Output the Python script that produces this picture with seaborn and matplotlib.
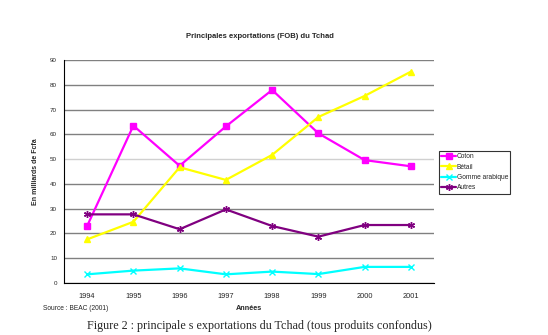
import matplotlib
matplotlib.use("Agg")
import matplotlib.pyplot as plt
import seaborn as sns
import pandas as pd

annees = ["1994", "1995", "1996", "1997", "1998", "1999", "2000", "2001"]
coton = [23, 63.5, 47.3, 63.2, 77.9, 60.4, 49.6, 47.1]
betail = [17.6, 24.7, 46.7, 41.6, 51.7, 67, 75.5, 85.3]
gomme = [3.5, 5.0, 5.9, 3.5, 4.6, 3.6, 6.5, 6.5]
autres = [27.7, 27.7, 21.7, 29.7, 23.0, 18.7, 23.4, 23.4]
series_names = ["Coton", "Bétail", "Gomme arabique", "Autres"]
colors = ["#FF00FF", "#FFFF00", "#00FFFF", "#800080"]
marker_list = ["s", "^", "x", (6, 2, 0)]

sns.set_style("white")
plt.rcParams["font.family"] = ["Liberation Sans", "DejaVu Sans"]

fig = plt.figure(figsize=(5.48, 3.35), dpi=100)
ax = fig.add_axes([64/548, 1-283/335, 370/548, 223/335])

for name, vals, col, mk in zip(series_names, [coton, betail, gomme, autres], colors, marker_list):
    d = pd.DataFrame({"idx": list(range(len(annees))), "val": vals})
    sns.lineplot(data=d, x="idx", y="val", color=col, marker=mk, linewidth=1.6,
                 markersize=5, markeredgewidth=1.0, markeredgecolor=col,
                 label=name, ax=ax)

ax.set_xlim(-0.5, 7.5)
ax.set_ylim(0, 90)
ax.set_yticks(range(0, 91, 10))
ax.set_yticklabels([str(v) for v in range(0, 91, 10)], fontsize=4.5)
ax.set_xticks(range(8))
ax.set_xticklabels(annees, fontsize=5.3)
ax.set_xticks([i + 0.5 for i in range(-1, 8)], minor=True)
ax.tick_params(axis="x", which="major", length=0, pad=7)
ax.tick_params(axis="x", which="minor", length=3, width=0.8, color="black", direction="out")
ax.tick_params(axis="y", which="major", length=3, width=0.8, color="black", direction="out", pad=2)

ax.yaxis.grid(True, color="#808080", linewidth=1.0)
ax.set_axisbelow(True)
gl = ax.get_ygridlines()
if len(gl) > 5:
    gl[5].set_color("#d0d0d0")
for s in ["top", "right"]:
    ax.spines[s].set_visible(False)
ax.spines["left"].set_color("black")
ax.spines["bottom"].set_color("black")
ax.spines["left"].set_linewidth(0.8)
ax.spines["bottom"].set_linewidth(0.8)

ax.set_xlabel("Années", fontsize=5.2, fontweight="bold", labelpad=4)
ax.set_ylabel("En milliards de Fcfa", fontsize=5, fontweight="bold", labelpad=8)

leg = ax.legend(loc="upper left", bbox_to_anchor=(439/548, 1-151/335),
                bbox_transform=fig.transFigure, fontsize=4.8, frameon=True,
                fancybox=False, edgecolor="black", borderpad=0.35,
                labelspacing=0.5, handlelength=2.2, handletextpad=0.1,
                borderaxespad=0)
leg.get_frame().set_linewidth(0.8)

fig.text(260/548, 1-36/335, "Principales exportations (FOB) du Tchad",
         ha="center", va="center", fontsize=5.5, fontweight="bold")
fig.text(43/548, 1-309/335, "Source : BEAC (2001)", ha="left", va="center", fontsize=4.8)
fig.text(259/548, 1-326/335,
         "Figure 2 : principale s exportations du Tchad (tous produits confondus)",
         ha="center", va="center", fontsize=8.7,
         family=["Liberation Serif", "DejaVu Serif"])

fig.savefig("out.png", dpi=100)
